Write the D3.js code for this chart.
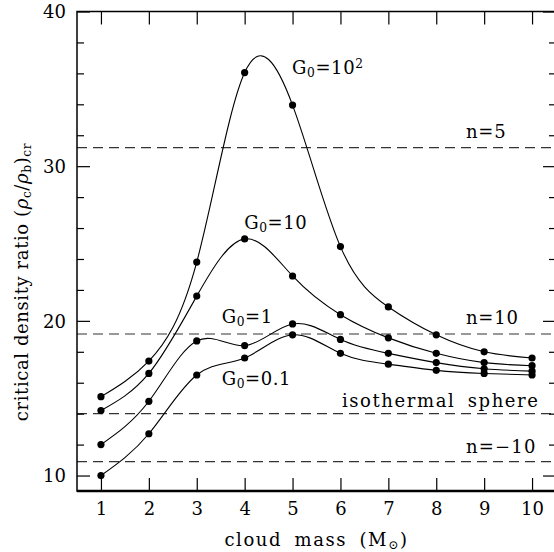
<!DOCTYPE html>
<html>
<head>
<meta charset="utf-8">
<script src="https://cdn.jsdelivr.net/npm/d3@7"></script>
<style>
  html, body { margin: 0; padding: 0; background: #fff; }
  svg { display: block; }
  text { font-family: "DejaVu Serif", "Liberation Serif", serif; fill: #000; }
</style>
</head>
<body>
<svg id="chart" width="554" height="552"></svg>
<script>
// Cloud mass (solar masses) sampled along the x axis
const cloudMass = [1, 2, 3, 4, 5, 6, 7, 8, 9, 10];

// Critical density ratio for each far-UV field strength G0
const ratioG100 = [15.1, 17.4, 23.8, 36.05, 33.95, 24.8, 20.9, 19.1, 18.0, 17.6];
const ratioG10  = [14.2, 16.6, 21.6, 25.3, 22.9, 20.4, 18.9, 17.9, 17.3, 17.1];
const ratioG1   = [12.0, 14.8, 18.7, 18.4, 19.8, 18.8, 17.9, 17.3, 16.9, 16.75];
const ratioG01  = [10.0, 12.7, 16.5, 17.6, 19.1, 17.9, 17.2, 16.8, 16.6, 16.5];

// Reference ratios of polytropic / isothermal spheres (dashed lines)
const refNames  = ["n=5", "n=10", "isothermal sphere", "n=\u221210"];
const refValues = [31.2, 19.15, 14.0, 10.9];

// Axis ticks
const xTicks = [1, 2, 3, 4, 5, 6, 7, 8, 9, 10];
const yMajorTicks = [10, 20, 30, 40];
const yMinorTicks = d3.range(10, 41, 2).filter(v => v % 10 !== 0);

const svg = d3.select("#chart");
const mLeft = 77, mRight = 556, mTop = 11.5, mBottom = 491;

const x = d3.scaleLinear().domain([0.5, 10.5]).range([mLeft, mRight]);
const y = d3.scaleLinear().domain([9, 40]).range([mBottom, mTop]);

const FS = 18;

// Dashed reference lines
svg.append("g").selectAll("line").data(refValues).join("line")
  .attr("x1", mLeft).attr("x2", mRight)
  .attr("y1", d => y(d)).attr("y2", d => y(d))
  .attr("stroke", "#333").attr("stroke-width", 1.2)
  .attr("stroke-dasharray", "10,6");

// Curves and points
const series = [ratioG100, ratioG10, ratioG1, ratioG01];
const line = d3.line().x((d, i) => x(cloudMass[i])).y(d => y(d)).curve(d3.curveNatural);

series.forEach(vals => {
  svg.append("path").datum(vals)
    .attr("d", line)
    .attr("fill", "none").attr("stroke", "#000").attr("stroke-width", 1.1);
  svg.append("g").selectAll("circle").data(vals).join("circle")
    .attr("cx", (d, i) => x(cloudMass[i])).attr("cy", d => y(d))
    .attr("r", 3.6).attr("fill", "#000");
});

// Axes: ticks pointing into the frame
function styleAxis(g) {
  g.select(".domain").remove();
  g.selectAll(".tick line").attr("stroke", "#000").attr("stroke-width", 1.2);
}
const xb = svg.append("g").attr("transform", `translate(0,${mBottom})`)
  .call(d3.axisBottom(x).tickValues(xTicks).tickSize(-13).tickPadding(0).tickFormat(d3.format("d")));
styleAxis(xb);
xb.selectAll(".tick text").attr("y", 24).attr("dy", 0)
  .attr("font-size", FS).attr("font-family", "DejaVu Serif");

const xt = svg.append("g").attr("transform", `translate(0,${mTop})`)
  .call(d3.axisTop(x).tickValues(xTicks).tickSize(-13).tickFormat(""));
styleAxis(xt);

const yl = svg.append("g").attr("transform", `translate(${mLeft},0)`)
  .call(d3.axisLeft(y).tickValues(yMajorTicks).tickSize(-13).tickPadding(0).tickFormat(d3.format("d")));
styleAxis(yl);
yl.selectAll(".tick text").attr("x", -11).attr("dy", "0.35em")
  .attr("font-size", FS).attr("font-family", "DejaVu Serif");
const ylm = svg.append("g").attr("transform", `translate(${mLeft},0)`)
  .call(d3.axisLeft(y).tickValues(yMinorTicks).tickSize(-7).tickFormat(""));
styleAxis(ylm);

const yr = svg.append("g").attr("transform", `translate(${mRight},0)`)
  .call(d3.axisRight(y).tickValues(yMajorTicks).tickSize(-13).tickFormat(""));
styleAxis(yr);
const yrm = svg.append("g").attr("transform", `translate(${mRight},0)`)
  .call(d3.axisRight(y).tickValues(yMinorTicks).tickSize(-7).tickFormat(""));
styleAxis(yrm);

// Frame
svg.append("rect").attr("x", mLeft).attr("y", mTop)
  .attr("width", mRight - mLeft).attr("height", mBottom - mTop)
  .attr("fill", "none").attr("stroke", "#000").attr("stroke-width", 1.5);
svg.append("line").attr("x1", mLeft).attr("x2", mRight)
  .attr("y1", mBottom).attr("y2", mBottom)
  .attr("stroke", "#000").attr("stroke-width", 2.4);

// Text helper: parts are [text, shift, style] where shift is "sub", "sup" or null
function richText(parent, parts, attrs) {
  const t = parent.append("text").attr("font-size", FS);
  Object.entries(attrs).forEach(([k, v]) => t.attr(k, v));
  parts.forEach(([s, kind, style]) => {
    const ts = t.append("tspan").text(s);
    if (kind === "sub") ts.attr("font-size", FS * 0.68).attr("baseline-shift", "-22%");
    if (kind === "sup") ts.attr("font-size", FS * 0.68).attr("baseline-shift", "48%");
    if (style === "italic") ts.attr("font-style", "italic");
  });
  return t;
}

// Series labels (anchor in data units: cloud mass, ratio at the text baseline)
const seriesLabels = [
  { parts: [["G"], ["0", "sub"], ["=10"], ["2", "sup"]], mx: 4.99, v: 35.95 },
  { parts: [["G"], ["0", "sub"], ["=10"]], mx: 3.99, v: 25.95 },
  { parts: [["G"], ["0", "sub"], ["=1"]], mx: 3.52, v: 19.85 },
  { parts: [["G"], ["0", "sub"], ["=0.1"]], mx: 3.52, v: 15.84 }
];
seriesLabels.forEach(l => richText(svg, l.parts, { x: x(l.mx), y: y(l.v), "letter-spacing": 0.6 }));

// Reference line labels (anchor in data units)
const refLabelX = [8.62, 8.62, 6.03, 8.62];
const refLabelBase = [31.8, 19.78, 14.43, 11.46];
refNames.forEach((name, i) => {
  svg.append("text").text(name)
    .attr("x", x(refLabelX[i])).attr("y", y(refLabelBase[i]))
    .attr("font-size", FS)
    .attr("letter-spacing", i === 2 ? 1.6 : (i === 3 ? 1.2 : 0.8))
    .attr("word-spacing", i === 2 ? 5 : 0);
});

// Axis titles
richText(svg, [["cloud mass ("], ["M"], ["\u2299", "sub"], [")"]],
  { x: (mLeft + mRight) / 2, y: 546, "text-anchor": "middle",
    "letter-spacing": 1.6, "word-spacing": 5 });

richText(svg, [["critical density ratio ("], ["\u03c1", null, "italic"], ["c", "sub"], ["/"],
               ["\u03c1", null, "italic"], ["b", "sub"], [")"], ["cr", "sub"]],
  { transform: `translate(28,282) rotate(-90)`, "text-anchor": "middle", "letter-spacing": 0.6 });
</script>
</body>
</html>
